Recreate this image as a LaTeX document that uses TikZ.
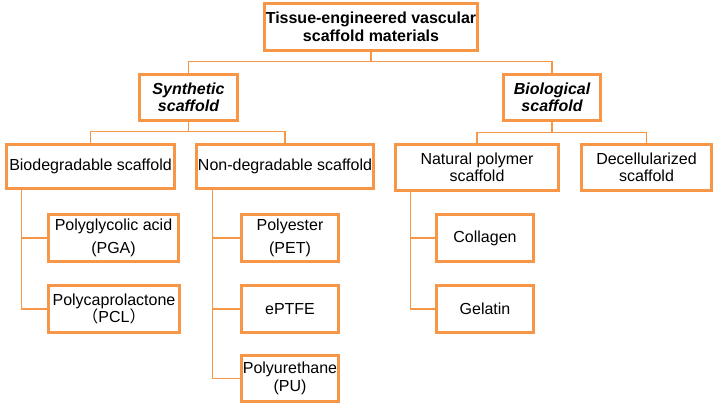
\documentclass[tikz,border=0pt]{standalone}
\usepackage{fontspec}
\setmainfont{Liberation Sans}
\newfontfamily\cjk{Noto Sans CJK SC}
\usetikzlibrary{shadows}
\definecolor{orng}{HTML}{F79646}
\tikzset{
  box/.style={draw=orng, line width=2.6pt, fill=white, align=center, inner sep=1pt,
    font=\fontsize{16}{17.5}\selectfont,
    drop shadow={opacity=0.25, shadow xshift=1pt, shadow yshift=-1pt, fill=black!60}},
  conn/.style={draw=orng, line width=1.4pt},
}
\begin{document}
\begin{tikzpicture}[x=1pt,y=-1pt]
\useasboundingbox (0,0) rectangle (715,411);
\node[box, minimum width=213pt, minimum height=47pt] (top) at (371,27)
  {\bfseries Tissue-engineered vascular\\\bfseries scaffold materials};
\node[box, minimum width=98pt, minimum height=46pt] (syn) at (188.5,97.5)
  {\bfseries\itshape Synthetic\\\bfseries\itshape scaffold};
\node[box, minimum width=97pt, minimum height=46pt] (bio) at (552,97.5)
  {\bfseries\itshape Biological\\\bfseries\itshape scaffold};
\node[box, minimum width=168pt, minimum height=44pt] (biod) at (90.5,166.5) {Biodegradable scaffold};
\node[box, minimum width=177pt, minimum height=44pt] (nond) at (285,166.5) {Non-degradable scaffold};
\node[box, minimum width=163pt, minimum height=46pt] (nat) at (477,167.5) {Natural polymer\\scaffold};
\node[box, minimum width=130pt, minimum height=46pt] (dec) at (646.5,167.5) {Decellularized\\scaffold};
\node[box, minimum width=130pt, minimum height=47pt] (pga) at (113.5,238) {Polyglycolic acid\\[5pt](PGA)};
\node[box, minimum width=131pt, minimum height=47pt] (pcl) at (114,309) {Polycaprolactone\\{\cjk （}PCL{\cjk ）}};
\node[box, minimum width=97pt, minimum height=47pt] (pet) at (290,238) {Polyester\\[5pt](PET)};
\node[box, minimum width=97pt, minimum height=47pt] (eptfe) at (290,309) {ePTFE};
\node[box, minimum width=97pt, minimum height=46pt] (pu) at (290,378.5) {Polyurethane\\(PU)};
\node[box, minimum width=97pt, minimum height=47pt] (col) at (485,238) {Collagen};
\node[box, minimum width=97pt, minimum height=47pt] (gel) at (485,309) {Gelatin};
% connectors
\draw[conn] (top.south) -- ++(0,9.5) -| (syn.north);
\draw[conn] (top.south) -- ++(0,9.5) -| (bio.north);
\draw[conn] (syn.south) -- ++(0,9.5) -| (biod.north);
\draw[conn] (syn.south) -- ++(0,9.5) -| (nond.north);
\draw[conn] (bio.south) -- ++(0,11) -| (nat.north);
\draw[conn] (bio.south) -- ++(0,11) -| (dec.north);
\draw[conn] ([xshift=16pt]biod.south west) |- (pga.west);
\draw[conn] ([xshift=16pt]biod.south west) |- (pcl.west);
\draw[conn] ([xshift=17pt]nond.south west) |- (pet.west);
\draw[conn] ([xshift=17pt]nond.south west) |- (eptfe.west);
\draw[conn] ([xshift=17pt]nond.south west) |- (pu.west);
\draw[conn] ([xshift=16pt]nat.south west) |- (col.west);
\draw[conn] ([xshift=16pt]nat.south west) |- (gel.west);
\end{tikzpicture}
\end{document}
